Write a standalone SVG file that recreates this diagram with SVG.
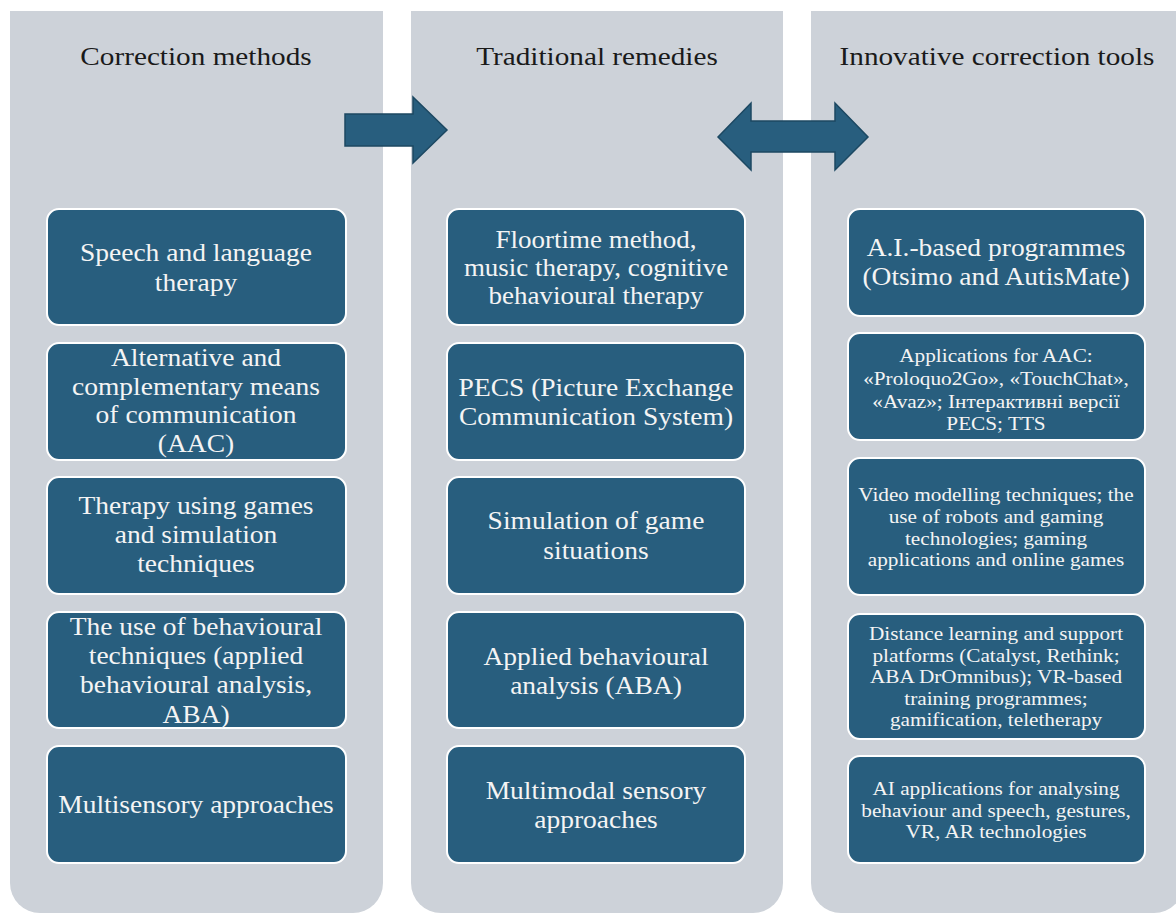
<svg xmlns="http://www.w3.org/2000/svg" width="1176" height="914" viewBox="0 0 1176 914">
  <style>
    .col { fill: #CDD2D9; }
    .box { fill: #285E7E; stroke: #FFFFFF; stroke-width: 2; }
    .arrow { fill: #285E7E; stroke: #1C4862; stroke-width: 1.5; stroke-linejoin: miter; }
    .head { font-family: "Liberation Serif", "Times New Roman", serif; font-size: 25px; fill: #1A1A1A; text-anchor: middle; }
    .t { font-family: "Liberation Serif", "Times New Roman", serif; font-size: 25px; fill: #F4F4F4; text-anchor: middle; }
    .s { font-family: "Liberation Serif", "Times New Roman", serif; font-size: 19.5px; fill: #F4F4F4; text-anchor: middle; }
  </style>
  <rect width="1176" height="914" fill="#FFFFFF"/>

  <!-- column panels: square top, rounded bottom -->
  <g id="columns">
    <path class="col" d="M10 11 H383 V883 A30 30 0 0 1 353 913 H40 A30 30 0 0 1 10 883 Z"/>
    <path class="col" d="M411 11 H783 V883 A30 30 0 0 1 753 913 H441 A30 30 0 0 1 411 883 Z"/>
    <path class="col" d="M811 11 H1184 V883 A30 30 0 0 1 1154 913 H841 A30 30 0 0 1 811 883 Z"/>
  </g>

  <!-- column titles (text is slightly widened, hence the x-scale) -->
  <g id="headers">
    <g transform="translate(196 0) scale(1.17 1)"><text class="head" x="0" y="65">Correction methods</text></g>
    <g transform="translate(597 0) scale(1.17 1)"><text class="head" x="0" y="65">Traditional remedies</text></g>
    <g transform="translate(997 0) scale(1.17 1)"><text class="head" x="0" y="65">Innovative correction tools</text></g>
  </g>

  <!-- connectors between columns -->
  <g id="connectors">
    <path class="arrow" d="M345 114 H413 V97 L447 130 L413 163 V146 H345 Z"/>
    <path class="arrow" d="M718 137 L751 103 V121 H835 V103 L868 137 L835 170 V152 H751 V170 Z"/>
  </g>

  <!-- left column -->
  <g id="cm-speech">
    <rect class="box" x="47" y="209" width="299" height="116" rx="12"/>
    <g transform="translate(196 0) scale(1.1 1)">
      <text class="t" x="0" y="261">Speech and language</text>
      <text class="t" x="0" y="291">therapy</text>
    </g>
  </g>
  <g id="cm-aac">
    <rect class="box" x="47" y="343" width="299" height="117" rx="12"/>
    <g transform="translate(196 0) scale(1.1 1)">
      <text class="t" x="0" y="366">Alternative and</text>
      <text class="t" x="0" y="395">complementary means</text>
      <text class="t" x="0" y="423">of communication</text>
      <text class="t" x="0" y="452">(AAC)</text>
    </g>
  </g>
  <g id="cm-games">
    <rect class="box" x="47" y="477" width="299" height="117" rx="12"/>
    <g transform="translate(196 0) scale(1.1 1)">
      <text class="t" x="0" y="514">Therapy using games</text>
      <text class="t" x="0" y="543">and simulation</text>
      <text class="t" x="0" y="572">techniques</text>
    </g>
  </g>
  <g id="cm-behaviour">
    <rect class="box" x="47" y="612" width="299" height="116" rx="12"/>
    <g transform="translate(196 0) scale(1.1 1)">
      <text class="t" x="0" y="635">The use of behavioural</text>
      <text class="t" x="0" y="664">techniques (applied</text>
      <text class="t" x="0" y="693">behavioural analysis,</text>
      <text class="t" x="0" y="723">ABA)</text>
    </g>
  </g>
  <g id="cm-sensory">
    <rect class="box" x="47" y="746" width="299" height="117" rx="12"/>
    <g transform="translate(196 0) scale(1.1 1)">
      <text class="t" x="0" y="813">Multisensory approaches</text>
    </g>
  </g>

  <!-- middle column -->
  <g id="tr-floortime">
    <rect class="box" x="447" y="209" width="298" height="116" rx="12"/>
    <g transform="translate(596 0) scale(1.08 1)">
      <text class="t" x="0" y="248">Floortime method,</text>
      <text class="t" x="0" y="276">music therapy, cognitive</text>
      <text class="t" x="0" y="304">behavioural therapy</text>
    </g>
  </g>
  <g id="tr-pecs">
    <rect class="box" x="447" y="343" width="298" height="117" rx="12"/>
    <g transform="translate(596 0) scale(1.1 1)">
      <text class="t" x="0" y="396">PECS (Picture Exchange</text>
      <text class="t" x="0" y="425">Communication System)</text>
    </g>
  </g>
  <g id="tr-simulation">
    <rect class="box" x="447" y="477" width="298" height="117" rx="12"/>
    <g transform="translate(596 0) scale(1.1 1)">
      <text class="t" x="0" y="529">Simulation of game</text>
      <text class="t" x="0" y="559">situations</text>
    </g>
  </g>
  <g id="tr-aba">
    <rect class="box" x="447" y="612" width="298" height="116" rx="12"/>
    <g transform="translate(596 0) scale(1.1 1)">
      <text class="t" x="0" y="665">Applied behavioural</text>
      <text class="t" x="0" y="694">analysis (ABA)</text>
    </g>
  </g>
  <g id="tr-multimodal">
    <rect class="box" x="447" y="746" width="298" height="117" rx="12"/>
    <g transform="translate(596 0) scale(1.1 1)">
      <text class="t" x="0" y="799">Multimodal sensory</text>
      <text class="t" x="0" y="828">approaches</text>
    </g>
  </g>

  <!-- right column -->
  <g id="in-ai">
    <rect class="box" x="848" y="209" width="297" height="107" rx="12"/>
    <g transform="translate(996 0) scale(1.1 1)">
      <text class="t" x="0" y="256">A.I.-based programmes</text>
      <text class="t" x="0" y="285">(Otsimo and AutisMate)</text>
    </g>
  </g>
  <g id="in-aac-apps">
    <rect class="box" x="848" y="333" width="297" height="107" rx="12"/>
    <g transform="translate(996 0) scale(1.09 1)">
      <text class="s" x="0" y="362">Applications for AAC:</text>
      <text class="s" x="0" y="385">«Proloquo2Go», «TouchChat»,</text>
      <text class="s" x="0" y="408">«Avaz»; Інтерактивні версії</text>
      <text class="s" x="0" y="430">PECS; TTS</text>
    </g>
  </g>
  <g id="in-video">
    <rect class="box" x="848" y="458" width="297" height="137" rx="12"/>
    <g transform="translate(996 0) scale(1.09 1)">
      <text class="s" x="0" y="501">Video modelling techniques; the</text>
      <text class="s" x="0" y="523">use of robots and gaming</text>
      <text class="s" x="0" y="545">technologies; gaming</text>
      <text class="s" x="0" y="566">applications and online games</text>
    </g>
  </g>
  <g id="in-distance">
    <rect class="box" x="848" y="614" width="297" height="125" rx="12"/>
    <g transform="translate(996 0) scale(1.09 1)">
      <text class="s" x="0" y="640">Distance learning and support</text>
      <text class="s" x="0" y="662">platforms (Catalyst, Rethink;</text>
      <text class="s" x="0" y="683">ABA DrOmnibus); VR-based</text>
      <text class="s" x="0" y="705">training programmes;</text>
      <text class="s" x="0" y="726">gamification, teletherapy</text>
    </g>
  </g>
  <g id="in-ai-analysis">
    <rect class="box" x="848" y="756" width="297" height="107" rx="12"/>
    <g transform="translate(996 0) scale(1.09 1)">
      <text class="s" x="0" y="795">AI applications for analysing</text>
      <text class="s" x="0" y="817">behaviour and speech, gestures,</text>
      <text class="s" x="0" y="838">VR, AR technologies</text>
    </g>
  </g>
</svg>
